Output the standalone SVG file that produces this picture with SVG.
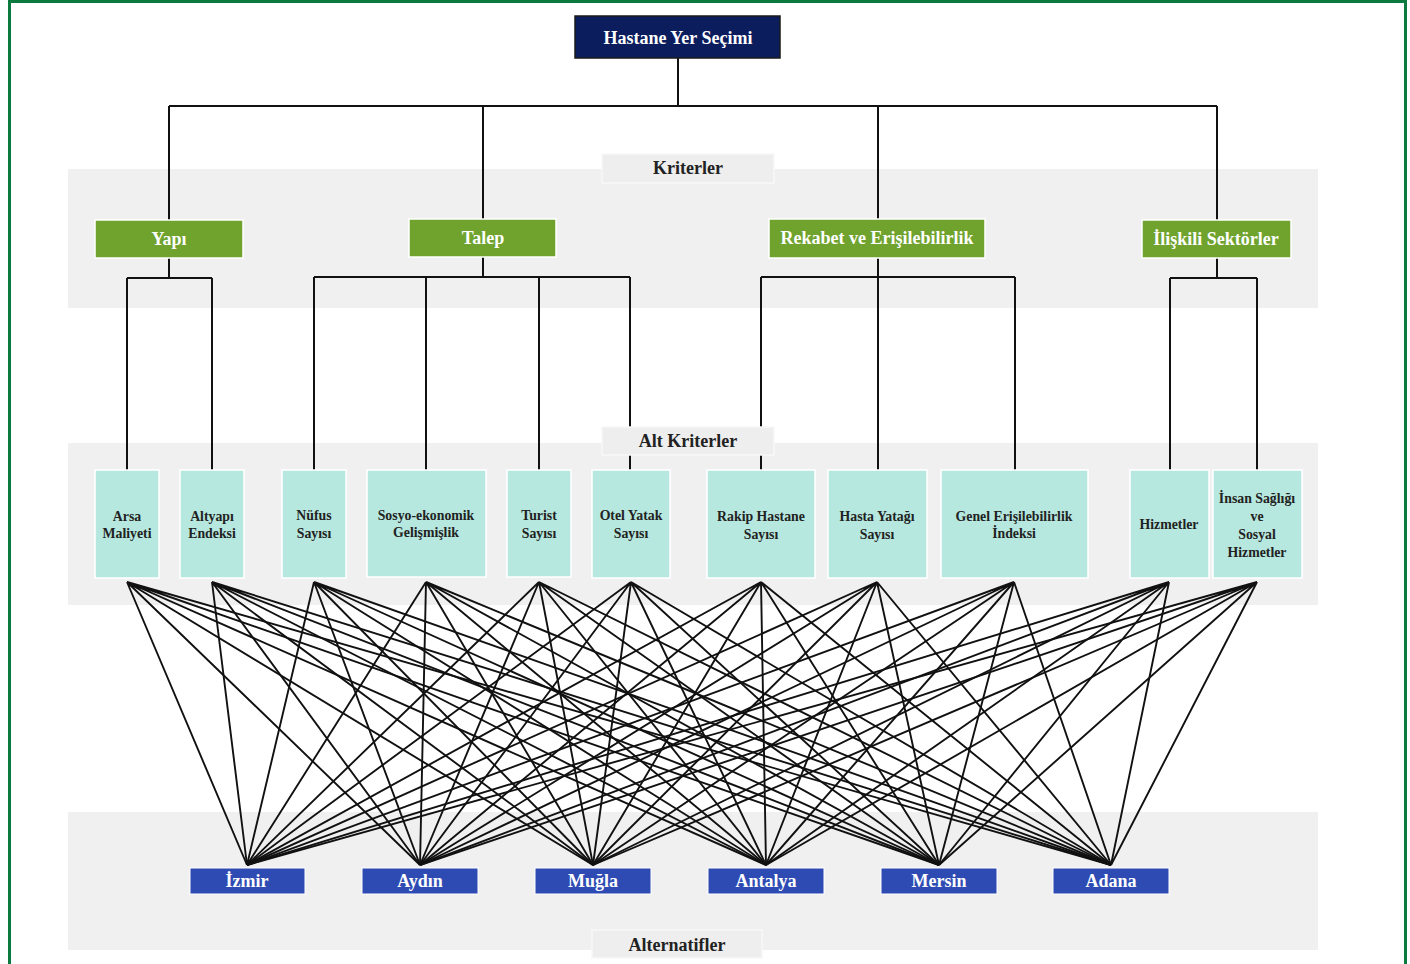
<svg xmlns="http://www.w3.org/2000/svg" width="1410" height="964" viewBox="0 0 1410 964">
<style>
text{font-family:"Liberation Serif","Times New Roman",serif;font-weight:bold;text-anchor:middle;dominant-baseline:central}
.band{fill:#f0f0f0}
.lbl{fill:#eeeeee;stroke:#f8f8f8;stroke-width:1.5}
.lblt{font-size:18px;fill:#222}
.top{fill:#0b1d5c;stroke:#1a1a1a;stroke-width:1.5}
.crit{fill:#6fa32e;stroke:#ffffff;stroke-width:1.5}
.sub{fill:#b6e8df;stroke:#ffffff;stroke-width:1.5}
.alt{fill:#2e4bb3;stroke:#ffffff;stroke-width:1}
.wt{font-size:18px;fill:#ffffff}
.st{font-size:13.8px;fill:#222}
.c{stroke:#111;stroke-width:2;fill:none}
.x{stroke:#111;stroke-width:1.9;fill:none}
</style>
<rect x="0" y="0" width="1410" height="964" fill="#ffffff"/>
<rect x="9.5" y="1.5" width="1396" height="1000" fill="none" stroke="#0b7a3e" stroke-width="3"/>
<g id="bands">
<rect class="band" x="68" y="169" width="1250" height="139"/>
<rect class="band" x="68" y="443" width="1250" height="162"/>
<rect class="band" x="68" y="812" width="1250" height="138"/>
</g>
<g id="connectors">
<path class="c" d="M678 58V106M169 106H1217M169 106V220M483 106V219M878 106V219M1217 106V220"/>
<path class="c" d="M169 258V278M127 278H212M127 278V471M212 278V471"/>
<path class="c" d="M483 257V277M314 277H630M314 277V471M426 277V471M539 277V471M630 277V471"/>
<path class="c" d="M878 258V277M761 277H1015M761 277V471M878 277V471M1015 277V471"/>
<path class="c" d="M1217 258V278M1170 278H1257M1170 278V471M1257 278V471"/>
<g class="x">
<path d="M127 582L247 865M127 582L420 865M127 582L593 865M127 582L766 865M127 582L939 865M127 582L1111 865"/>
<path d="M212 582L247 865M212 582L420 865M212 582L593 865M212 582L766 865M212 582L939 865M212 582L1111 865"/>
<path d="M314 582L247 865M314 582L420 865M314 582L593 865M314 582L766 865M314 582L939 865M314 582L1111 865"/>
<path d="M426 582L247 865M426 582L420 865M426 582L593 865M426 582L766 865M426 582L939 865M426 582L1111 865"/>
<path d="M539 582L247 865M539 582L420 865M539 582L593 865M539 582L766 865M539 582L939 865M539 582L1111 865"/>
<path d="M631 582L247 865M631 582L420 865M631 582L593 865M631 582L766 865M631 582L939 865M631 582L1111 865"/>
<path d="M761 582L247 865M761 582L420 865M761 582L593 865M761 582L766 865M761 582L939 865M761 582L1111 865"/>
<path d="M877 582L247 865M877 582L420 865M877 582L593 865M877 582L766 865M877 582L939 865M877 582L1111 865"/>
<path d="M1014 582L247 865M1014 582L420 865M1014 582L593 865M1014 582L766 865M1014 582L939 865M1014 582L1111 865"/>
<path d="M1169 582L247 865M1169 582L420 865M1169 582L593 865M1169 582L766 865M1169 582L939 865M1169 582L1111 865"/>
<path d="M1257 582L247 865M1257 582L420 865M1257 582L593 865M1257 582L766 865M1257 582L939 865M1257 582L1111 865"/>
</g>
</g>
<g id="labels">
<rect class="lbl" x="602" y="154" width="172" height="29"/>
<text class="lblt" x="688" y="168">Kriterler</text>
<rect class="lbl" x="602" y="427" width="172" height="28"/>
<text class="lblt" x="688" y="441">Alt Kriterler</text>
<rect class="lbl" x="592" y="930" width="170" height="28"/>
<text class="lblt" x="677" y="945">Alternatifler</text>
</g>
<g id="n-top"><rect class="top" x="575" y="16" width="205" height="42"/><text class="wt" x="678" y="38">Hastane Yer Seçimi</text></g>
<g id="n-yapi"><rect class="crit" x="95" y="220" width="148" height="38"/><text class="wt" x="169" y="239">Yapı</text></g>
<g id="n-talep"><rect class="crit" x="409" y="219" width="147" height="38"/><text class="wt" x="483" y="238">Talep</text></g>
<g id="n-rekabet"><rect class="crit" x="769" y="219" width="216" height="39"/><text class="wt" x="877" y="238">Rekabet ve Erişilebilirlik</text></g>
<g id="n-iliskili"><rect class="crit" x="1142" y="220" width="149" height="38"/><text class="wt" x="1216" y="239">İlişkili Sektörler</text></g>
<g id="n-arsa"><rect class="sub" x="95" y="470" width="64" height="108"/><text class="st" x="127" y="516">Arsa</text><text class="st" x="127" y="533">Maliyeti</text></g>
<g id="n-altyapi"><rect class="sub" x="180" y="470" width="64" height="108"/><text class="st" x="212" y="516">Altyapı</text><text class="st" x="212" y="533">Endeksi</text></g>
<g id="n-nufus"><rect class="sub" x="282" y="470" width="64" height="108"/><text class="st" x="314" y="515">Nüfus</text><text class="st" x="314" y="533">Sayısı</text></g>
<g id="n-sosyo"><rect class="sub" x="367" y="470" width="119" height="107"/><text class="st" x="426" y="515">Sosyo-ekonomik</text><text class="st" x="426" y="532">Gelişmişlik</text></g>
<g id="n-turist"><rect class="sub" x="507" y="470" width="64" height="107"/><text class="st" x="539" y="515">Turist</text><text class="st" x="539" y="533">Sayısı</text></g>
<g id="n-otel"><rect class="sub" x="592" y="470" width="78" height="108"/><text class="st" x="631" y="515">Otel Yatak</text><text class="st" x="631" y="533">Sayısı</text></g>
<g id="n-rakip"><rect class="sub" x="707" y="470" width="108" height="108"/><text class="st" x="761" y="516">Rakip Hastane</text><text class="st" x="761" y="534">Sayısı</text></g>
<g id="n-hasta"><rect class="sub" x="828" y="470" width="99" height="108"/><text class="st" x="877" y="516">Hasta Yatağı</text><text class="st" x="877" y="534">Sayısı</text></g>
<g id="n-genel"><rect class="sub" x="941" y="470" width="147" height="108"/><text class="st" x="1014" y="516">Genel Erişilebilirlik</text><text class="st" x="1014" y="533">İndeksi</text></g>
<g id="n-hizmetler"><rect class="sub" x="1130" y="470" width="79" height="108"/><text class="st" x="1169" y="524">Hizmetler</text></g>
<g id="n-insan"><rect class="sub" x="1213" y="470" width="89" height="108"/><text class="st" x="1257" y="498">İnsan Sağlığı</text><text class="st" x="1257" y="516">ve</text><text class="st" x="1257" y="534">Sosyal</text><text class="st" x="1257" y="552">Hizmetler</text></g>
<g id="n-izmir"><rect class="alt" x="190" y="868" width="115" height="26"/><text class="wt" x="247" y="881">İzmir</text></g>
<g id="n-aydin"><rect class="alt" x="362" y="868" width="116" height="26"/><text class="wt" x="420" y="881">Aydın</text></g>
<g id="n-mugla"><rect class="alt" x="535" y="868" width="116" height="26"/><text class="wt" x="593" y="881">Muğla</text></g>
<g id="n-antalya"><rect class="alt" x="708" y="868" width="116" height="26"/><text class="wt" x="766" y="881">Antalya</text></g>
<g id="n-mersin"><rect class="alt" x="881" y="868" width="116" height="26"/><text class="wt" x="939" y="881">Mersin</text></g>
<g id="n-adana"><rect class="alt" x="1053" y="868" width="116" height="26"/><text class="wt" x="1111" y="881">Adana</text></g>
</svg>
